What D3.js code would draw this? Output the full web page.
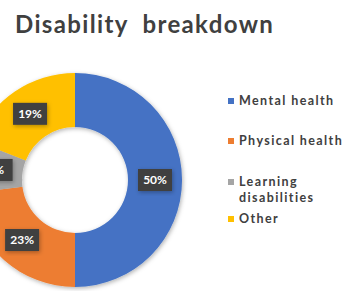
<!DOCTYPE html>
<html>
<head>
<meta charset="utf-8">
<script src="https://cdn.jsdelivr.net/npm/d3@7"></script>
<style>
  body { margin: 0; background: #fff; }
  svg { display: block; font-family: Lato, "Open Sans", sans-serif; }
</style>
</head>
<body>
<div class="chart"></div>
<script>
const categories = ["Mental health", "Physical health", "Learning disabilities", "Other"];
const legendLines = [["Mental health"], ["Physical health"], ["Learning", "disabilities"], ["Other"]];
const values = [50, 23, 8, 19];
const colors = ["#4472C4", "#ED7D31", "#A5A5A5", "#FFC000"];

const width = 354, height = 291;
const svg = d3.select(".chart").append("svg")
  .attr("width", width)
  .attr("height", height);

const defs = svg.append("defs");
const shadow = defs.append("filter").attr("id", "shadow")
  .attr("x", "-20%").attr("y", "-20%").attr("width", "140%").attr("height", "140%");
shadow.append("feDropShadow").attr("dx", 1).attr("dy", 1.5).attr("stdDeviation", 2)
  .attr("flood-color", "#000").attr("flood-opacity", 0.3);

svg.append("text")
  .attr("x", 15).attr("y", 33)
  .attr("font-size", 24).attr("font-weight", "bold")
  .attr("letter-spacing", 1.35)
  .attr("fill", "#404040")
  .attr("xml:space", "preserve")
  .text("Disability  breakdown");

const data = categories.map((c, i) => ({ name: c, value: values[i], color: colors[i] }));

const pie = d3.pie().value(d => d.value).sort(null);
const arcs = pie(data);
const arc = d3.arc().innerRadius(53).outerRadius(107);
const labelArc = d3.arc().innerRadius(80).outerRadius(80);

const g = svg.append("g").attr("transform", "translate(75,180)");

g.append("g").attr("filter", "url(#shadow)")
  .selectAll("path").data(arcs).join("path")
  .attr("d", arc)
  .attr("fill", d => d.data.color);

const lab = g.selectAll("g.lab").data(arcs).join("g")
  .attr("class", "lab")
  .attr("transform", d => `translate(${labelArc.centroid(d)})`);

lab.append("rect")
  .attr("x", -17).attr("y", -11).attr("width", 34).attr("height", 22)
  .attr("fill", "#404040")
  .attr("filter", "url(#shadow)");

lab.append("text")
  .attr("text-anchor", "middle").attr("dy", "0.36em")
  .attr("font-size", 12).attr("font-weight", "bold")
  .attr("fill", "#fff")
  .text(d => d.data.value + "%");

const legendY = [101, 141, 182, 219];
const leg = svg.append("g").selectAll("g").data(data).join("g")
  .attr("transform", (d, i) => `translate(228,${legendY[i]})`);

leg.append("rect")
  .attr("x", 0).attr("y", -3).attr("width", 6).attr("height", 6)
  .attr("fill", d => d.color);

leg.append("text")
  .attr("font-size", 12.5).attr("font-weight", "bold")
  .attr("letter-spacing", 1.4)
  .attr("fill", "#404040")
  .selectAll("tspan").data((d, i) => legendLines[i]).join("tspan")
  .attr("x", 11)
  .attr("dy", (t, j) => j === 0 ? "0.35em" : "16")
  .text(t => t);
</script>
</body>
</html>
